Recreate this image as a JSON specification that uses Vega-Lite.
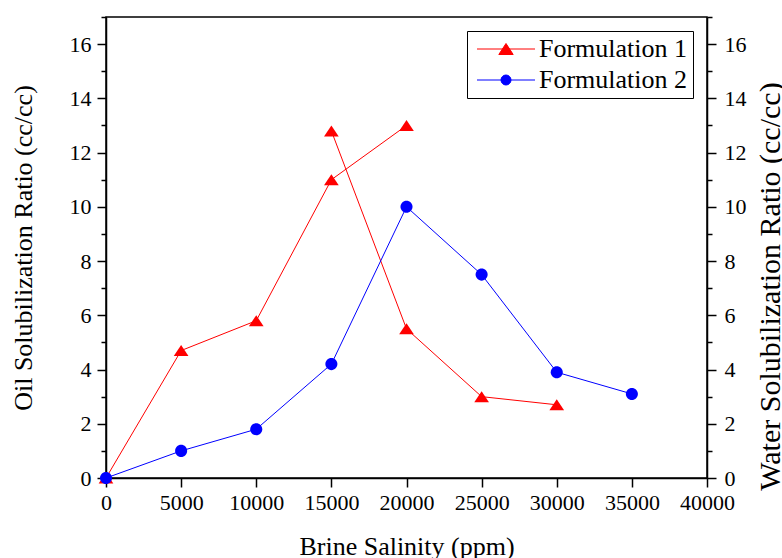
{
  "$schema": "https://vega.github.io/schema/vega-lite/v6.json",
  "width": 601,
  "height": 461,
  "autosize": "none",
  "padding": {"left": 106, "top": 17, "right": 75, "bottom": 80},
  "background": "white",
  "config": {
    "font": "Liberation Serif",
    "view": {"stroke": "black", "strokeWidth": 1.5},
    "axis": {
      "domainColor": "black", "domainWidth": 1.5,
      "tickColor": "black", "tickWidth": 1.5,
      "labelColor": "black", "titleColor": "black",
      "labelFont": "Liberation Serif", "titleFont": "Liberation Serif",
      "labelFontSize": 22, "titleFontSize": 26, "titleFontWeight": "normal",
      "grid": false, "zindex": 1, "labelOverlap": false, "labelFlush": false
    },
    "legend": {
      "orient": "top-right",
      "offset": 14,
      "strokeColor": "black",
      "padding": 5,
      "rowPadding": 5,
      "symbolSize": 400,
      "symbolOpacity": 1,
      "symbolStrokeWidth": 1,
      "symbolOffset": 21,
      "labelOffset": 20,
      "labelFont": "Liberation Serif",
      "labelFontSize": 26,
      "labelColor": "black",
      "labelLimit": 400
    }
  },
  "data": {
    "values": [
      {"series": "Formulation 1", "curve": "F1 oil", "salinity": 0, "ratio": 0},
      {"series": "Formulation 1", "curve": "F1 oil", "salinity": 5000, "ratio": 4.7},
      {"series": "Formulation 1", "curve": "F1 oil", "salinity": 10000, "ratio": 5.8},
      {"series": "Formulation 1", "curve": "F1 oil", "salinity": 15000, "ratio": 11.0},
      {"series": "Formulation 1", "curve": "F1 oil", "salinity": 20000, "ratio": 13.0},
      {"series": "Formulation 1", "curve": "F1 water", "salinity": 15000, "ratio": 12.8},
      {"series": "Formulation 1", "curve": "F1 water", "salinity": 20000, "ratio": 5.5},
      {"series": "Formulation 1", "curve": "F1 water", "salinity": 25000, "ratio": 3.0},
      {"series": "Formulation 1", "curve": "F1 water", "salinity": 30000, "ratio": 2.7},
      {"series": "Formulation 2", "curve": "F2", "salinity": 0, "ratio": 0},
      {"series": "Formulation 2", "curve": "F2", "salinity": 5000, "ratio": 1.0},
      {"series": "Formulation 2", "curve": "F2", "salinity": 10000, "ratio": 1.8},
      {"series": "Formulation 2", "curve": "F2", "salinity": 15000, "ratio": 4.2},
      {"series": "Formulation 2", "curve": "F2", "salinity": 20000, "ratio": 10.0},
      {"series": "Formulation 2", "curve": "F2", "salinity": 25000, "ratio": 7.5},
      {"series": "Formulation 2", "curve": "F2", "salinity": 30000, "ratio": 3.9},
      {"series": "Formulation 2", "curve": "F2", "salinity": 35000, "ratio": 3.1}
    ]
  },
  "layer": [
    {
      "mark": {"type": "line", "strokeWidth": 1},
      "encoding": {
        "x": {
          "field": "salinity", "type": "quantitative",
          "scale": {"domain": [0, 40000], "nice": false},
          "axis": {
            "title": "Brine Salinity (ppm)",
            "orient": "bottom",
            "values": [0, 2500, 5000, 7500, 10000, 12500, 15000, 17500, 20000, 22500, 25000, 27500, 30000, 32500, 35000, 37500, 40000],
            "format": "d",
            "labelExpr": "datum.value % 5000 === 0 ? datum.label : ''",
            "tickSize": {"condition": {"test": "datum.value % 5000 === 0", "value": 9}, "value": 5},
            "labelPadding": 5,
            "titleY": 76,
            "titleBaseline": "alphabetic"
          }
        },
        "y": {
          "field": "ratio", "type": "quantitative",
          "scale": {"domain": [0, 17], "nice": false},
          "axis": {
            "title": "Oil Solubilization Ratio (cc/cc)",
            "orient": "left",
            "values": [0, 1, 2, 3, 4, 5, 6, 7, 8, 9, 10, 11, 12, 13, 14, 15, 16, 17],
            "labelExpr": "datum.value % 2 === 0 ? datum.label : ''",
            "tickSize": {"condition": {"test": "datum.value % 2 === 0", "value": 9}, "value": 5},
            "labelPadding": 6,
            "titleAngle": 270,
            "titleX": -75,
            "titleBaseline": "alphabetic"
          }
        },
        "color": {"condition": {"test": "datum.series === 'Formulation 1'", "value": "#ff0000"}, "value": "#0000ff"},
        "detail": {"field": "curve", "type": "nominal"}
      }
    },
    {
      "transform": [{"filter": "datum.series === 'Formulation 1'"}],
      "mark": {"type": "point", "filled": true, "size": 216, "opacity": 1, "color": "#ff0000", "shape": "M0,-0.75L1,0.75H-1Z"},
      "encoding": {
        "x": {"field": "salinity", "type": "quantitative"},
        "y": {"field": "ratio", "type": "quantitative", "axis": null}
      }
    },
    {
      "transform": [{"filter": "datum.series === 'Formulation 2'"}],
      "mark": {"type": "point", "filled": true, "size": 216, "opacity": 1, "color": "#0000ff", "shape": "M0.82,0A0.82,0.82 0 1,1 -0.82,0A0.82,0.82 0 1,1 0.82,0Z"},
      "encoding": {
        "x": {"field": "salinity", "type": "quantitative"},
        "y": {"field": "ratio", "type": "quantitative", "axis": null}
      }
    },
    {
      "mark": {"type": "point", "filled": true, "size": 400, "opacity": 0},
      "encoding": {
        "x": {"field": "salinity", "type": "quantitative"},
        "y": {"field": "ratio", "type": "quantitative", "axis": null},
        "color": {
          "field": "series", "type": "nominal",
          "scale": {"domain": ["Formulation 1", "Formulation 2"], "range": ["#ff0000", "#0000ff"]},
          "legend": {"title": null}
        },
        "stroke": {
          "field": "series", "type": "nominal",
          "scale": {"domain": ["Formulation 1", "Formulation 2"], "range": ["#ff0000", "#0000ff"]},
          "legend": {"title": null}
        },
        "shape": {
          "field": "series", "type": "nominal",
          "scale": {
            "domain": ["Formulation 1", "Formulation 2"],
            "range": ["M-2.9,0H2.9M0,-0.55L0.72,0.55H-0.72Z", "M-2.9,0H2.9M0.5,0A0.5,0.5 0 1,1 -0.5,0A0.5,0.5 0 1,1 0.5,0Z"]
          },
          "legend": {"title": null}
        }
      }
    },
    {
      "mark": {"type": "point", "opacity": 0},
      "encoding": {
        "x": {"field": "salinity", "type": "quantitative"},
        "y": {
          "field": "ratio", "type": "quantitative",
          "axis": {
            "title": "Water Solubilization Ratio (cc/cc)",
            "orient": "right",
            "values": [0, 1, 2, 3, 4, 5, 6, 7, 8, 9, 10, 11, 12, 13, 14, 15, 16, 17],
            "labelExpr": "datum.value % 2 === 0 ? datum.label : ''",
            "tickSize": {"condition": {"test": "datum.value % 2 === 0", "value": 9}, "value": 5},
            "labelPadding": 8,
            "titleAngle": 270,
            "titleFontSize": 30,
            "titleX": 72,
            "titleY": 269,
            "titleBaseline": "alphabetic"
          }
        }
      }
    }
  ],
  "resolve": {"axis": {"y": "independent"}}
}
